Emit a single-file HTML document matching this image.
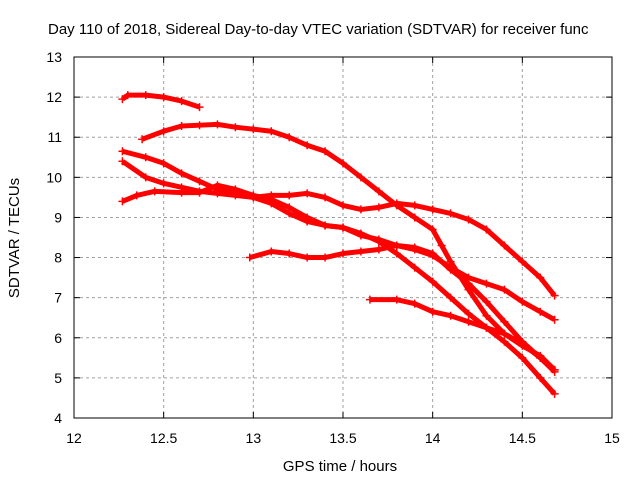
<!DOCTYPE html>
<html><head><meta charset="utf-8"><style>
body{margin:0;background:#fff;width:640px;height:480px;overflow:hidden}
svg{font-family:"Liberation Sans",sans-serif}
</style></head><body>
<svg id="chart" width="640" height="480" viewBox="0 0 640 480">
<text x="48" y="34" font-size="15" fill="#000">Day 110 of 2018, Sidereal Day-to-day VTEC variation (SDTVAR) for receiver func</text>
<text x="340" y="471" font-size="15" text-anchor="middle">GPS time / hours</text>
<text transform="translate(19,238) rotate(-90)" font-size="15" text-anchor="middle">SDTVAR / TECUs</text>
<g id="grid"></g><g id="ticks"></g><g id="series"></g>
<rect x="74" y="57" width="538" height="361" fill="none" stroke="#000" stroke-width="1"/>
</svg>
<script>
const xTicks=[12,12.5,13,13.5,14,14.5,15];
const xTickLabels=["12","12.5","13","13.5","14","14.5","15"];
const yTicks=[4,5,6,7,8,9,10,11,12,13];
const yTickLabels=["4","5","6","7","8","9","10","11","12","13"];
const seriesA_x=[12.27,12.3,12.4,12.5,12.6,12.7];
const seriesA_y=[11.95,12.05,12.05,12.0,11.9,11.75];
const seriesB_x=[12.38,12.5,12.6,12.7,12.8,12.9,13.0,13.1,13.2,13.3,13.4,13.5,13.6,13.7,13.8,13.9,14.0,14.05,14.1,14.2,14.3,14.4,14.5,14.6,14.68];
const seriesB_y=[10.95,11.15,11.28,11.3,11.32,11.25,11.2,11.15,11.0,10.8,10.65,10.35,10.0,9.65,9.3,9.0,8.7,8.3,7.9,7.2,6.55,6.1,5.85,5.5,5.15];
const seriesC_x=[12.27,12.4,12.5,12.6,12.7,12.8,12.9,13.0,13.1,13.2,13.3,13.4,13.5,13.6,13.7,13.8,13.9,14.0,14.1,14.2,14.3,14.4,14.5,14.6,14.68];
const seriesC_y=[10.65,10.5,10.35,10.1,9.9,9.7,9.6,9.5,9.35,9.1,8.9,8.8,8.75,8.55,8.45,8.3,8.2,8.05,7.75,7.5,7.35,7.2,6.9,6.65,6.45];
const seriesD_x=[12.27,12.4,12.5,12.6,12.7,12.8,12.9,13.0,13.1,13.2,13.3,13.4,13.5,13.6,13.7,13.8,13.9,14.0,14.1,14.2,14.3,14.4,14.5,14.6,14.68];
const seriesD_y=[10.4,10.0,9.85,9.75,9.65,9.6,9.55,9.5,9.55,9.55,9.6,9.5,9.3,9.2,9.25,9.35,9.3,9.2,9.1,8.95,8.7,8.3,7.9,7.5,7.05];
const seriesE_x=[12.27,12.35,12.45,12.6,12.7,12.8,12.9,13.0,13.1,13.2,13.3,13.4,13.5,13.6,13.7,13.8,13.9,14.0,14.1,14.2,14.3,14.4,14.5,14.6,14.68];
const seriesE_y=[9.4,9.55,9.65,9.62,9.62,9.8,9.7,9.55,9.45,9.25,9.0,8.8,8.75,8.6,8.4,8.1,7.75,7.4,7.0,6.6,6.25,5.9,5.5,5.0,4.6];
const seriesF_x=[12.98,13.1,13.2,13.3,13.4,13.5,13.6,13.7,13.8,13.9,14.0,14.1,14.2,14.3,14.4,14.5,14.6,14.68];
const seriesF_y=[8.0,8.15,8.1,8.0,8.0,8.1,8.15,8.2,8.3,8.25,8.1,7.7,7.35,6.9,6.4,5.9,5.5,5.2];
const seriesG_x=[13.65,13.8,13.9,14.0,14.1,14.2,14.3,14.4,14.5,14.6,14.68];
const seriesG_y=[6.95,6.95,6.85,6.65,6.55,6.4,6.25,6.1,5.8,5.55,5.2];
const allSeries=[[seriesA_x,seriesA_y],[seriesB_x,seriesB_y],[seriesC_x,seriesC_y],[seriesD_x,seriesD_y],[seriesE_x,seriesE_y],[seriesF_x,seriesF_y],[seriesG_x,seriesG_y]];
const X0=74,X1=612,Y0=418,Y1=57;
function sx(h){return X0+(h-12)/3*(X1-X0);}
function sy(v){return Y0-(v-4)/9*(Y0-Y1);}
const NS="http://www.w3.org/2000/svg";
function mk(t,a,p){const e=document.createElementNS(NS,t);for(const k in a)e.setAttribute(k,a[k]);p.appendChild(e);return e;}
const grid=document.getElementById('grid'),ticks=document.getElementById('ticks'),ser=document.getElementById('series');
xTicks.forEach((t,i)=>{const x=sx(t);
 if(i>0&&i<xTicks.length-1){const g=mk('line',{x1:x,x2:x,y1:Y1,y2:Y0,stroke:'#a0a0a0','stroke-dasharray':'3,3'},grid);
 }
 mk('line',{x1:x,x2:x,y1:Y0,y2:Y0-6,stroke:'#000'},ticks);mk('line',{x1:x,x2:x,y1:Y1,y2:Y1+6,stroke:'#000'},ticks);
 const l=mk('text',{x:x,y:443,'font-size':14,'text-anchor':'middle'},ticks);l.textContent=xTickLabels[i];
 });
yTicks.forEach((t,i)=>{const y=sy(t);
 if(i>0&&i<yTicks.length-1){const g=mk('line',{x1:X0,x2:X1,y1:y,y2:y,stroke:'#a0a0a0','stroke-dasharray':'3,3'},grid);
 }
 mk('line',{x1:X0,x2:X0+6,y1:y,y2:y,stroke:'#000'},ticks);mk('line',{x1:X1,x2:X1-6,y1:y,y2:y,stroke:'#000'},ticks);
 const l=mk('text',{x:62,y:y+5,'font-size':14,'text-anchor':'end'},ticks);l.textContent=yTickLabels[i];
 });
allSeries.forEach(([xs,ys],si)=>{
 const g=mk('g',{},ser);
 
 
 const pts=xs.map((x,i)=>sx(x)+','+sy(ys[i])).join(' ');
 mk('polyline',{points:pts,fill:'none',stroke:'#f00','stroke-width':5,'stroke-linejoin':'round'},g);
 let d='';
 xs.forEach((x,i)=>{const px=sx(x),py=sy(ys[i]);d+=`M${px-4},${py}h8M${px},${py-4}v8`;});
 mk('path',{d:d,stroke:'#f00','stroke-width':1.5},g);
});
</script>
</body></html>
